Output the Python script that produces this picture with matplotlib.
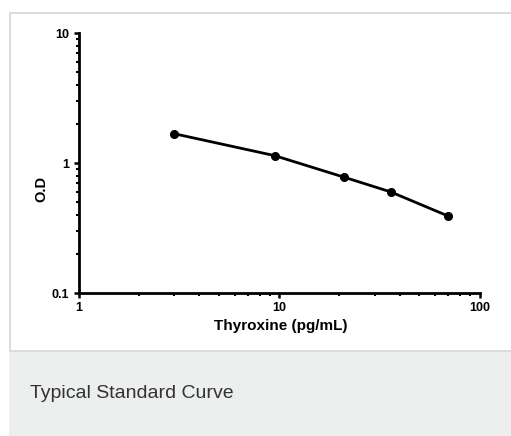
import matplotlib
matplotlib.use("Agg")
import matplotlib.pyplot as plt
from matplotlib.patches import Rectangle
from matplotlib.ticker import LogLocator, FixedLocator, NullFormatter

concentration = [3.0, 9.5, 21.0, 36.0, 70.0]
od_values = [1.68, 1.14, 0.78, 0.60, 0.39]
x_ticks = [1, 10, 100]
x_ticklabels = ["1", "10", "100"]
y_ticks = [0.1, 1, 10]
y_ticklabels = ["0.1", "1", "10"]
x_label = "Thyroxine (pg/mL)"
y_label = "O.D"
caption = "Typical Standard Curve"

W, H = 511, 436
fig = plt.figure(figsize=(W / 100, H / 100), dpi=100)
fig.patch.set_facecolor("white")
plt.rcParams["font.family"] = ["Liberation Sans", "DejaVu Sans"]

def px(x, y, w, h):
    # convert pixel box (top-left origin) to figure fraction
    return (x / W, 1 - (y + h) / H, w / W, h / H)

border = "#dcdcdc"
# grey caption panel
x0, y0, w0, h0 = px(9, 351, 502, 85)
fig.patches.append(Rectangle((x0, y0), w0, h0, transform=fig.transFigure,
                             facecolor="#edeeee", edgecolor="none", zorder=0))
# frame lines
for (bx, by, bw, bh) in [(9, 12, 502, 2), (9, 12, 2, 340), (9, 350, 502, 2)]:
    x0, y0, w0, h0 = px(bx, by, bw, bh)
    fig.patches.append(Rectangle((x0, y0), w0, h0, transform=fig.transFigure,
                                 facecolor=border, edgecolor="none", zorder=0))

ax = fig.add_axes(px(78.5, 33, 401, 260))
ax.set_xscale("log")
ax.set_yscale("log")
ax.set_xlim(1, 100)
ax.set_ylim(0.1, 10)

ax.plot(concentration, od_values, color="black", lw=2.0, marker="o",
        markersize=5.5, zorder=3, clip_on=False)

for s in ["top", "right"]:
    ax.spines[s].set_visible(False)
for s in ["left", "bottom"]:
    ax.spines[s].set_linewidth(2.0)
    ax.spines[s].set_color("black")

ax.xaxis.set_major_locator(FixedLocator(x_ticks))
ax.set_xticklabels(x_ticklabels)
ax.yaxis.set_major_locator(FixedLocator(y_ticks))
ax.set_yticklabels(y_ticklabels)
ax.xaxis.set_minor_locator(LogLocator(base=10, subs=range(2, 10)))
ax.yaxis.set_minor_locator(LogLocator(base=10, subs=range(2, 10)))
ax.xaxis.set_minor_formatter(NullFormatter())
ax.yaxis.set_minor_formatter(NullFormatter())

ax.tick_params(which="major", direction="out", length=3.5, width=1.8,
               labelsize=9, pad=3)
ax.tick_params(which="minor", direction="out", length=2, width=1.5)
for lbl in ax.get_xticklabels() + ax.get_yticklabels():
    lbl.set_fontweight("bold")

fig.text(41.7 / W, 1 - 189 / H, y_label, rotation=90, ha="center", va="center",
         fontsize=10.5, fontweight="bold")
fig.text(281 / W, 1 - 326 / H, x_label, ha="center", va="center",
         fontsize=11, fontweight="bold")
fig.text(30 / W, 1 - 393 / H, caption, ha="left", va="center",
         fontsize=14, color="#333333")

fig.savefig("out.png", dpi=100, facecolor="white")
